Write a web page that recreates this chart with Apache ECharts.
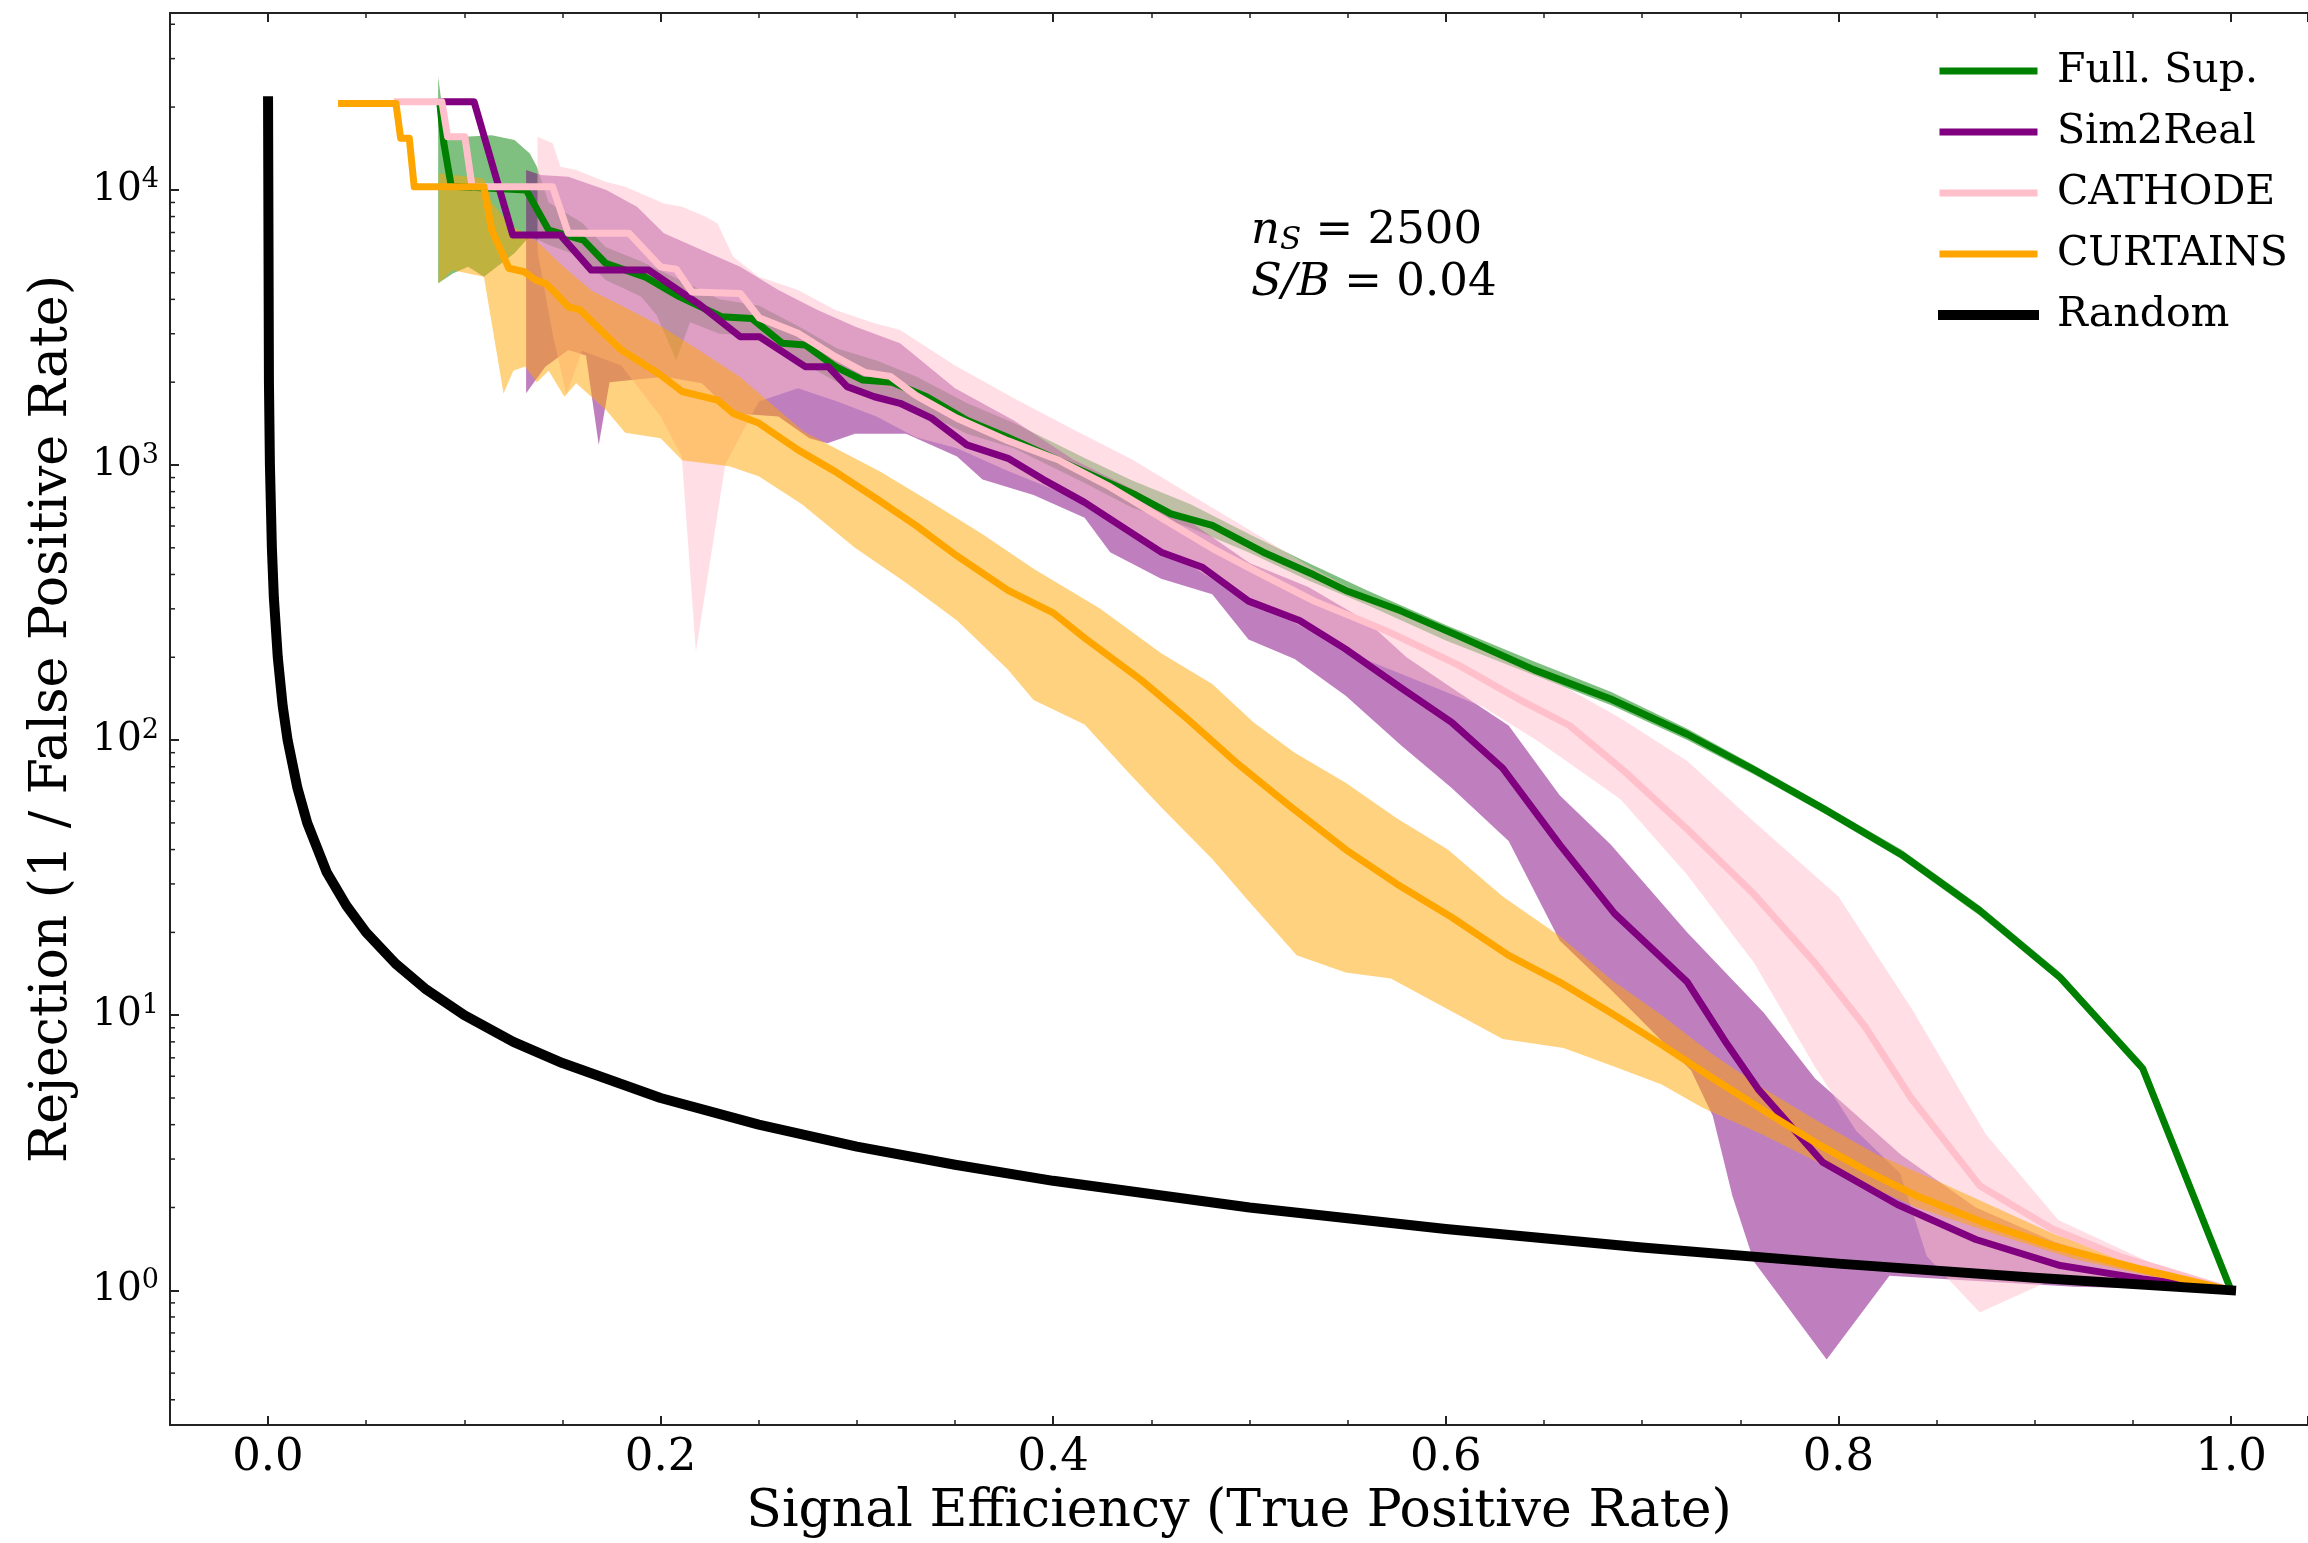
<!DOCTYPE html>
<html>
<head>
<meta charset="utf-8">
<title>Rejection vs signal efficiency</title>
<script src="https://cdn.jsdelivr.net/npm/echarts@6.0.0/dist/echarts.min.js"></script>
<style>
  html, body { margin: 0; padding: 0; background: #fff; }
  #chart { width: 2308px; height: 1543px; }
</style>
</head>
<body>
<div id="chart"></div>
<script>
// axis ranges (left margin -0.05; right side is cut by the picture edge)
const xMin = -0.0499, xMax = 1.0392;
const yMin = 0.3236, yMax = 43950;

// [signal efficiency, rejection]
const fullSupLine = [[0.0875,20900],[0.0896,14760],[0.0934,10300],[0.1315,10000],[0.143,7140],[0.1607,6570],[0.172,5410],[0.192,4830],[0.2095,4090],[0.231,3460],[0.2465,3410],[0.262,2770],[0.2737,2730],[0.289,2277],[0.303,2036],[0.318,2000],[0.336,1762],[0.356,1453],[0.377,1260],[0.416,944],[0.442,778],[0.46,664],[0.481,603],[0.507,482],[0.533,398],[0.549,350],[0.577,295],[0.606,240],[0.645,180],[0.684,141],[0.723,105],[0.757,78],[0.793,56],[0.832,38.4],[0.872,24],[0.913,13.7],[0.955,6.4],[1.0,1.0]];
const fullSupUpper = [[0.0867,25800],[0.0905,16000],[0.1003,15600],[0.114,15800],[0.1256,15170],[0.1334,13550],[0.137,12130],[0.143,9000],[0.16,7600],[0.172,6200],[0.19,5500],[0.21,4700],[0.23,4000],[0.25,3800],[0.27,3200],[0.29,2650],[0.31,2400],[0.33,2100],[0.356,1680],[0.38,1420],[0.416,1060],[0.44,880],[0.47,720],[0.5,560],[0.53,440],[0.56,350],[0.6,262],[0.645,193],[0.684,150],[0.723,110],[0.757,81],[0.793,58],[0.832,40],[0.872,25],[0.913,14.3],[0.955,6.7],[1.0,1.0]];
const fullSupLower = [[0.0867,4575],[0.0944,4975],[0.102,5250],[0.110,4830],[0.1256,5880],[0.1334,6800],[0.143,6300],[0.16,5700],[0.172,4700],[0.19,4100],[0.198,3500],[0.208,2400],[0.215,3300],[0.23,3000],[0.25,2950],[0.27,2400],[0.29,2000],[0.31,1800],[0.33,1600],[0.356,1300],[0.38,1150],[0.416,860],[0.44,700],[0.47,590],[0.5,480],[0.53,380],[0.56,310],[0.6,230],[0.645,172],[0.684,134],[0.723,100],[0.757,75],[0.793,54],[0.832,37],[0.872,23],[0.913,13.2],[0.955,6.2],[1.0,1.0]];

const sim2realLine = [[0.0886,20900],[0.105,20900],[0.1247,6850],[0.149,6850],[0.1647,5110],[0.194,5110],[0.219,3870],[0.2406,2925],[0.2504,2925],[0.2737,2277],[0.2854,2277],[0.295,1927],[0.3089,1770],[0.322,1676],[0.338,1480],[0.356,1183],[0.377,1057],[0.395,885],[0.416,731],[0.434,603],[0.455,482],[0.476,425],[0.4995,320],[0.5255,272],[0.5486,215],[0.577,155],[0.603,116],[0.629,79],[0.658,41.7],[0.686,23.4],[0.723,13.2],[0.743,7.9],[0.759,5.4],[0.792,2.92],[0.83,2.05],[0.87,1.53],[0.913,1.23],[0.955,1.1],[1.0,1.0]];
const sim2realUpper = [[0.1315,11800],[0.139,11330],[0.153,11170],[0.1724,10000],[0.188,8690],[0.2017,6950],[0.221,6040],[0.2406,5250],[0.26,4325],[0.28,3660],[0.299,3185],[0.322,2770],[0.35,1900],[0.38,1450],[0.41,1050],[0.44,820],[0.47,620],[0.5,440],[0.53,360],[0.56,270],[0.58,200],[0.606,150],[0.632,113],[0.658,63],[0.684,41.7],[0.723,20],[0.762,10.2],[0.788,5.9],[0.832,3.1],[0.87,2.0],[0.91,1.5],[0.955,1.2],[1.0,1.0]];
const sim2realLower = [[0.1315,1824],[0.1413,2277],[0.153,2620],[0.162,2500],[0.1685,1183],[0.174,2000],[0.2017,2094],[0.221,1983],[0.2368,1542],[0.26,1500],[0.2758,1250],[0.285,1200],[0.299,1300],[0.325,1300],[0.351,1073],[0.364,885],[0.39,778],[0.416,643],[0.429,482],[0.455,386],[0.481,339],[0.4995,232],[0.523,197],[0.549,145],[0.577,96],[0.603,67],[0.632,43],[0.658,18.7],[0.684,12.4],[0.725,6.3],[0.736,4.3],[0.746,2.2],[0.757,1.27],[0.794,0.56],[0.826,1.13],[0.87,1.08],[0.92,1.03],[1.0,1.0]];

const cathodeLine = [[0.066,20900],[0.0886,20900],[0.0915,15600],[0.1003,15600],[0.104,10260],[0.145,10260],[0.153,6950],[0.184,6950],[0.2,5250],[0.208,5150],[0.216,4250],[0.2406,4200],[0.2504,3420],[0.27,3010],[0.289,2477],[0.304,2170],[0.317,2100],[0.33,1790],[0.351,1479],[0.377,1224],[0.403,1040],[0.429,832],[0.455,643],[0.481,498],[0.507,398],[0.533,320],[0.5695,250],[0.606,188],[0.637,141],[0.663,113],[0.691,77],[0.723,47.4],[0.757,27.5],[0.788,15.5],[0.814,9.0],[0.837,5.0],[0.872,2.4],[0.909,1.67],[0.943,1.33],[1.0,1.0]];
const cathodeUpper = [[0.1373,15600],[0.145,14760],[0.149,12130],[0.157,11800],[0.172,10700],[0.182,10260],[0.2017,8930],[0.211,8690],[0.223,7980],[0.229,7550],[0.237,5710],[0.25,4830],[0.27,4325],[0.289,3660],[0.309,3275],[0.322,3095],[0.35,2300],[0.38,1750],[0.41,1350],[0.44,1050],[0.47,780],[0.5,580],[0.53,430],[0.56,330],[0.58,290],[0.606,235],[0.632,194],[0.658,160],[0.689,120],[0.723,84],[0.757,50.5],[0.8,27],[0.8375,10.5],[0.875,3.7],[0.912,1.8],[0.96,1.25],[1.0,1.0]];
const cathodeLower = [[0.1373,6000],[0.145,3000],[0.152,1800],[0.16,2600],[0.18,2300],[0.2,1500],[0.2108,1073],[0.218,210],[0.233,1007],[0.25,1700],[0.27,1900],[0.29,1700],[0.31,1500],[0.33,1260],[0.351,1150],[0.377,950],[0.403,800],[0.429,640],[0.455,500],[0.481,385],[0.507,305],[0.533,245],[0.56,195],[0.59,160],[0.619,132],[0.647,99],[0.689,61],[0.723,32.3],[0.757,15.5],[0.788,6.5],[0.809,3.8],[0.8315,2.66],[0.845,1.33],[0.872,0.83],[0.906,1.07],[0.95,1.02],[1.0,1.0]];

const curtainsLine = [[0.0375,20600],[0.0652,20600],[0.0676,15400],[0.072,15400],[0.0745,10260],[0.110,10260],[0.114,7140],[0.1227,5190],[0.1305,5040],[0.1364,4700],[0.1413,4575],[0.145,4325],[0.153,3760],[0.159,3660],[0.172,2970],[0.18,2620],[0.2,2125],[0.211,1850],[0.229,1720],[0.237,1540],[0.25,1420],[0.27,1135],[0.289,946],[0.31,754],[0.33,603],[0.351,467],[0.377,350],[0.4,290],[0.416,235],[0.445,165],[0.468,120],[0.494,82],[0.52,58],[0.549,40],[0.575,30],[0.603,22.7],[0.632,16.5],[0.658,13.2],[0.684,10.2],[0.71,7.8],[0.736,5.9],[0.762,4.5],[0.788,3.45],[0.815,2.7],[0.84,2.2],[0.875,1.75],[0.909,1.45],[0.955,1.19],[1.0,1.0]];
const curtainsUpper = [[0.087,11500],[0.110,11000],[0.114,9000],[0.123,7500],[0.137,6500],[0.150,5300],[0.165,4300],[0.180,3800],[0.2,3200],[0.22,2600],[0.24,2100],[0.255,1700],[0.273,1320],[0.312,944],[0.338,731],[0.364,560],[0.39,420],[0.424,300],[0.455,207],[0.481,160],[0.502,116],[0.523,90],[0.549,70],[0.575,52],[0.601,40],[0.629,27],[0.658,19.4],[0.684,13.5],[0.71,10],[0.736,7.2],[0.762,5.4],[0.79,4.1],[0.82,3.1],[0.85,2.5],[0.88,2.0],[0.91,1.6],[0.955,1.25],[1.0,1.0]];
const curtainsLower = [[0.087,4580],[0.094,5100],[0.110,4830],[0.120,1820],[0.125,2200],[0.131,2280],[0.137,2000],[0.143,2200],[0.151,1770],[0.157,1980],[0.172,1590],[0.182,1310],[0.200,1250],[0.211,1040],[0.235,990],[0.250,910],[0.272,720],[0.299,500],[0.325,373],[0.351,272],[0.377,180],[0.39,140],[0.416,114],[0.437,78],[0.455,57],[0.481,37],[0.4995,26],[0.524,16.5],[0.549,14.3],[0.572,13.6],[0.601,10.5],[0.629,8.2],[0.66,7.6],[0.686,6.5],[0.71,5.6],[0.731,4.6],[0.762,3.66],[0.801,2.66],[0.84,2.0],[0.88,1.6],[0.92,1.3],[0.96,1.12],[1.0,1.0]];

const randomLine = [[0.00005,21000],[0.0005,2000],[0.001,1000],[0.002,500],[0.003,330],[0.005,200],[0.0075,133],[0.01,100],[0.015,67],[0.02,50],[0.03,33],[0.04,25],[0.05,20],[0.065,15.4],[0.08,12.5],[0.1,10],[0.125,8],[0.15,6.7],[0.2,5],[0.25,4],[0.3,3.33],[0.35,2.86],[0.4,2.5],[0.5,2],[0.6,1.67],[0.7,1.43],[0.8,1.25],[0.9,1.11],[1.0,1.0]];

const legendNames = ['Full. Sup.', 'Sim2Real', 'CATHODE', 'CURTAINS', 'Random'];

// log minor ticks 2..9 per decade
const yMinorTicks = [];
[0.1, 1, 10, 100, 1000, 10000].forEach(d => {
    for (let k = 2; k <= 9; k++) {
        const v = d * k;
        if (v > yMin && v < yMax) yMinorTicks.push(v);
    }
});

const serif = 'DejaVu Serif';
const axisColor = '#222';

function band(name, upper, lower, fill) {
    const pts = upper.concat(lower.slice().reverse());
    return {
        type: 'custom',
        name: name,
        silent: true,
        data: pts,
        renderItem: (params, api) => {
            if (params.dataIndex !== 0) return null;
            return {
                type: 'polygon',
                shape: { points: pts.map(p => api.coord(p)) },
                style: { fill: fill }
            };
        }
    };
}

function line(name, data, color, width) {
    return {
        type: 'line',
        name: name,
        data: data,
        showSymbol: false,
        symbol: 'circle',
        lineStyle: { color: color, width: width, cap: 'square', join: 'round' },
        itemStyle: { color: color },
        silent: true
    };
}

const chart = echarts.init(document.getElementById('chart'));

const xAxisBase = {
    type: 'value',
    min: xMin,
    max: xMax,
    splitNumber: 5,
    splitLine: { show: false },
    axisLine: { show: true, onZero: false, lineStyle: { color: axisColor, width: 2 } },
    axisTick: { show: true, inside: true, length: 9, lineStyle: { color: axisColor, width: 2 } },
    minorTick: { show: true, splitNumber: 4, length: 5, lineStyle: { color: axisColor, width: 1.5 } }
};

const option = {
    animation: false,
    backgroundColor: '#fff',
    grid: { left: 170, top: 13, right: 0, height: 1413, containLabel: false },
    xAxis: [
        Object.assign({}, xAxisBase, {
            position: 'bottom',
            name: 'Signal Efficiency (True Positive Rate)',
            nameLocation: 'middle',
            nameGap: 57,
            nameTextStyle: { fontFamily: serif, fontSize: 52, color: '#000' },
            axisLabel: {
                showMinLabel: false, showMaxLabel: false, margin: 11,
                fontFamily: serif, fontSize: 45, color: '#000',
                formatter: v => v.toFixed(1)
            }
        }),
        Object.assign({}, xAxisBase, {
            position: 'top',
            axisLabel: { show: false }
        })
    ],
    yAxis: {
        type: 'log',
        logBase: 10,
        min: yMin,
        max: yMax,
        splitLine: { show: false },
        axisLine: { show: true, onZero: false, lineStyle: { color: axisColor, width: 2 } },
        axisTick: { show: true, inside: true, length: 9, lineStyle: { color: axisColor, width: 2 } },
        axisLabel: {
            showMinLabel: false, showMaxLabel: false, margin: 11,
            formatter: v => '{b|10}{s|' + Math.round(Math.log10(v)) + '}',
            rich: {
                b: { fontFamily: serif, fontSize: 39, color: '#000', lineHeight: 46 },
                s: { fontFamily: serif, fontSize: 27, color: '#000', lineHeight: 16, verticalAlign: 'top' }
            }
        },
        name: 'Rejection (1 / False Positive Rate)',
        nameLocation: 'middle',
        nameGap: 92,
        nameTextStyle: { fontFamily: serif, fontSize: 52, color: '#000' }
    },
    legend: {
        orient: 'vertical',
        left: 1933,
        top: 44,
        itemWidth: 91,
        itemHeight: 14,
        itemGap: 17,
        selectedMode: false,
        data: legendNames.map(n => n === 'Random' ? { name: n, lineStyle: { width: 10 } } : { name: n }),
        lineStyle: { width: 7 },
        itemStyle: { opacity: 0 },
        textStyle: { fontFamily: serif, fontSize: 41, color: '#000', lineHeight: 44, padding: [0, 0, 0, 18] }
    },
    graphic: [
        {
            type: 'text', x: 1251, y: 231,
            style: {
                text: '{i|n}{sub|S}{t| = 2500}',
                verticalAlign: 'middle',
                rich: {
                    i: { fontFamily: serif, fontStyle: 'italic', fontSize: 45, lineHeight: 50, fill: '#000' },
                    sub: { fontFamily: serif, fontStyle: 'italic', fontSize: 31, lineHeight: 22, verticalAlign: 'bottom', fill: '#000' },
                    t: { fontFamily: serif, fontSize: 45, lineHeight: 50, fill: '#000' }
                }
            }
        },
        {
            type: 'text', x: 1251, y: 283,
            style: {
                text: '{i|S/B}{t| = 0.04}',
                verticalAlign: 'middle',
                rich: {
                    i: { fontFamily: serif, fontStyle: 'italic', fontSize: 45, lineHeight: 50, fill: '#000' },
                    t: { fontFamily: serif, fontSize: 45, lineHeight: 50, fill: '#000' }
                }
            }
        }
    ],
    series: [
        band('band-full', fullSupUpper, fullSupLower, 'rgba(0,128,0,0.5)'),
        band('band-sim2real', sim2realUpper, sim2realLower, 'rgba(128,0,128,0.5)'),
        band('band-cathode', cathodeUpper, cathodeLower, 'rgba(255,192,203,0.5)'),
        band('band-curtains', curtainsUpper, curtainsLower, 'rgba(255,165,0,0.5)'),
        line('Full. Sup.', fullSupLine, '#008000', 7),
        line('Sim2Real', sim2realLine, '#800080', 7),
        line('CATHODE', cathodeLine, '#ffc0cb', 7),
        line('CURTAINS', curtainsLine, '#ffa500', 7),
        line('Random', randomLine, '#000000', 10),
        {
            type: 'custom',
            name: 'y-minor-ticks',
            silent: true,
            data: yMinorTicks.map(v => [xMin, v]),
            renderItem: (params, api) => {
                const p = api.coord([api.value(0), api.value(1)]);
                return {
                    type: 'line',
                    shape: { x1: p[0], y1: p[1], x2: p[0] + 5, y2: p[1] },
                    style: { stroke: axisColor, lineWidth: 1.5 }
                };
            }
        }
    ]
};

chart.setOption(option);
</script>
</body>
</html>
